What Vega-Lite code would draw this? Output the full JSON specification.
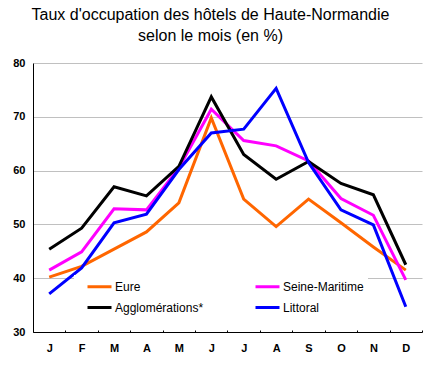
{
  "$schema": "https://vega.github.io/schema/vega-lite/v6.json",
  "width": 389,
  "height": 269,
  "autosize": {"type": "none"},
  "padding": {"left": 33, "top": 63, "right": 18, "bottom": 37},
  "background": "white",
  "title": {
    "text": ["Taux d'occupation des hôtels de Haute-Normandie", "selon le mois (en %)"],
    "font": "Liberation Sans",
    "fontSize": 16,
    "fontWeight": "normal",
    "lineHeight": 21,
    "color": "black",
    "anchor": "middle",
    "dx": -17,
    "offset": 13
  },
  "config": {
    "view": {"stroke": null},
    "font": "Liberation Sans"
  },
  "datasets": {
    "taux": [
      {"mois": "Janvier", "zone": "Eure", "taux": 40.2},
      {"mois": "Février", "zone": "Eure", "taux": 42.2},
      {"mois": "Mars", "zone": "Eure", "taux": 45.4},
      {"mois": "Avril", "zone": "Eure", "taux": 48.6},
      {"mois": "Mai", "zone": "Eure", "taux": 54.0},
      {"mois": "Juin", "zone": "Eure", "taux": 69.8},
      {"mois": "Juillet", "zone": "Eure", "taux": 54.7},
      {"mois": "Août", "zone": "Eure", "taux": 49.6},
      {"mois": "Septembre", "zone": "Eure", "taux": 54.7},
      {"mois": "Octobre", "zone": "Eure", "taux": 50.3},
      {"mois": "Novembre", "zone": "Eure", "taux": 45.8},
      {"mois": "Décembre", "zone": "Eure", "taux": 41.5},
      {"mois": "Janvier", "zone": "Seine-Maritime", "taux": 41.5},
      {"mois": "Février", "zone": "Seine-Maritime", "taux": 44.9},
      {"mois": "Mars", "zone": "Seine-Maritime", "taux": 52.9},
      {"mois": "Avril", "zone": "Seine-Maritime", "taux": 52.7},
      {"mois": "Mai", "zone": "Seine-Maritime", "taux": 60.5},
      {"mois": "Juin", "zone": "Seine-Maritime", "taux": 71.4},
      {"mois": "Juillet", "zone": "Seine-Maritime", "taux": 65.6},
      {"mois": "Août", "zone": "Seine-Maritime", "taux": 64.6},
      {"mois": "Septembre", "zone": "Seine-Maritime", "taux": 61.8},
      {"mois": "Octobre", "zone": "Seine-Maritime", "taux": 54.8},
      {"mois": "Novembre", "zone": "Seine-Maritime", "taux": 51.7},
      {"mois": "Décembre", "zone": "Seine-Maritime", "taux": 39.7},
      {"mois": "Janvier", "zone": "Agglomérations*", "taux": 45.4},
      {"mois": "Février", "zone": "Agglomérations*", "taux": 49.3},
      {"mois": "Mars", "zone": "Agglomérations*", "taux": 57.0},
      {"mois": "Avril", "zone": "Agglomérations*", "taux": 55.3},
      {"mois": "Mai", "zone": "Agglomérations*", "taux": 60.8},
      {"mois": "Juin", "zone": "Agglomérations*", "taux": 73.7},
      {"mois": "Juillet", "zone": "Agglomérations*", "taux": 63.0},
      {"mois": "Août", "zone": "Agglomérations*", "taux": 58.4},
      {"mois": "Septembre", "zone": "Agglomérations*", "taux": 61.7},
      {"mois": "Octobre", "zone": "Agglomérations*", "taux": 57.6},
      {"mois": "Novembre", "zone": "Agglomérations*", "taux": 55.5},
      {"mois": "Décembre", "zone": "Agglomérations*", "taux": 42.5},
      {"mois": "Janvier", "zone": "Littoral", "taux": 37.1},
      {"mois": "Février", "zone": "Littoral", "taux": 41.9},
      {"mois": "Mars", "zone": "Littoral", "taux": 50.3},
      {"mois": "Avril", "zone": "Littoral", "taux": 51.9},
      {"mois": "Mai", "zone": "Littoral", "taux": 60.2},
      {"mois": "Juin", "zone": "Littoral", "taux": 67.0},
      {"mois": "Juillet", "zone": "Littoral", "taux": 67.7},
      {"mois": "Août", "zone": "Littoral", "taux": 75.3},
      {"mois": "Septembre", "zone": "Littoral", "taux": 61.5},
      {"mois": "Octobre", "zone": "Littoral", "taux": 52.7},
      {"mois": "Novembre", "zone": "Littoral", "taux": 49.9},
      {"mois": "Décembre", "zone": "Littoral", "taux": 34.7}
    ]
  },
  "data": {"name": "taux"},
  "mark": {"type": "line", "strokeWidth": 3, "strokeJoin": "miter", "strokeCap": "butt"},
  "encoding": {
    "x": {
      "field": "mois",
      "type": "ordinal",
      "sort": ["Janvier", "Février", "Mars", "Avril", "Mai", "Juin", "Juillet", "Août", "Septembre", "Octobre", "Novembre", "Décembre"],
      "scale": {"type": "band", "paddingInner": 0, "paddingOuter": 0},
      "axis": {
        "title": null,
        "labelExpr": "upper(substring(datum.label, 0, 1))",
        "labelAngle": 0,
        "labelFont": "Liberation Sans",
        "labelFontSize": 11,
        "labelFontWeight": "bold",
        "labelColor": "black",
        "labelPadding": 12,
        "tickBand": "extent",
        "ticks": true,
        "tickSize": -2,
        "tickColor": "black",
        "domainColor": "black",
        "domainWidth": 1,
        "grid": false
      }
    },
    "y": {
      "field": "taux",
      "type": "quantitative",
      "scale": {"domain": [30, 80], "nice": false, "zero": false},
      "axis": {
        "title": null,
        "values": [30, 40, 50, 60, 70, 80],
        "labelFont": "Liberation Sans",
        "labelFontSize": 11,
        "labelFontWeight": "bold",
        "labelColor": "black",
        "labelPadding": 8,
        "ticks": false,
        "domainColor": "black",
        "domainWidth": 1,
        "grid": true,
        "gridColor": "#c0c0c0",
        "gridWidth": 1
      }
    },
    "color": {
      "field": "zone",
      "type": "nominal",
      "sort": ["Eure", "Agglomérations*", "Seine-Maritime", "Littoral"],
      "scale": {
        "domain": ["Eure", "Agglomérations*", "Seine-Maritime", "Littoral"],
        "range": ["#ff6600", "#000000", "#ff00ff", "#0000ff"]
      },
      "legend": {
        "title": null,
        "orient": "none",
        "legendX": 41,
        "legendY": 212,
        "columns": 2,
        "columnPadding": 42,
        "rowPadding": 7,
        "padding": 4,
        "fillColor": "white",
        "symbolType": "M-2,0H2",
        "symbolSize": 144,
        "symbolStrokeWidth": 3,
        "symbolOffset": 14,
        "labelOffset": 8,
        "labelFont": "Liberation Sans",
        "labelFontSize": 12,
        "labelColor": "black",
        "labelLimit": 200
      }
    }
  }
}
